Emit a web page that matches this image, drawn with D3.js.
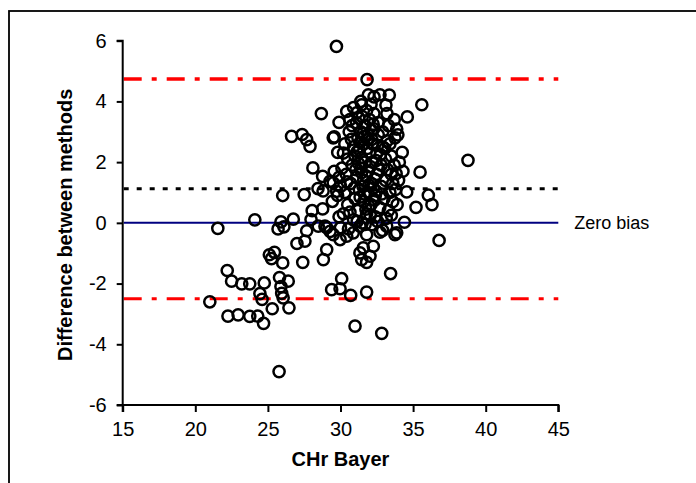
<!DOCTYPE html>
<html>
<head>
<meta charset="utf-8">
<script src="https://cdn.jsdelivr.net/npm/d3@7"></script>
<style>
  body { margin: 0; background: #fff; }
  text { font-family: Arial, "Liberation Sans", sans-serif; }
</style>
</head>
<body>
<div class="canva"></div>
<script>
// Bland-Altman plot: CHr Bayer vs difference between methods

const bayer = [
  21.0, 21.55, 22.2, 22.5, 22.25, 22.95, 23.2, 23.75, 23.75, 24.1,
  24.3, 24.45, 24.6, 24.7, 24.75, 25.1, 25.25, 25.45, 25.3, 25.7,
  25.8, 25.9, 25.9, 25.95, 26.05, 26.1, 26.02, 26.02, 26.4, 26.45,
  25.77, 26.63, 26.75, 27.0, 27.4, 27.36, 27.5, 27.55, 27.67, 27.67,
  27.9, 27.97, 28.05, 28.1, 28.45, 28.47, 28.68, 28.77, 28.77, 28.8,
  28.82, 28.93, 29.05, 29.05, 29.28, 29.28, 29.39, 29.44, 29.5, 29.5,
  29.5, 29.57, 29.57, 29.72, 29.74, 29.81, 29.9, 29.97, 29.97, 30.08,
  30.0, 30.43, 30.43, 30.65, 30.7, 30.88, 31.0, 31.11, 31.34, 31.34,
  31.46, 31.46, 31.57, 31.8, 31.8, 31.8, 31.83, 31.92, 32.03, 32.15,
  32.26, 32.31, 32.72, 32.72, 32.84, 33.13, 33.18, 33.36, 33.45, 33.75,
  33.75, 33.87, 33.87, 33.83, 34.25, 34.4, 34.56, 34.6, 35.2, 35.48,
  35.6, 36.05, 36.3, 36.79, 38.78,
  // dense cluster
  30.2, 30.3, 30.4, 30.5, 30.3, 30.6, 30.5, 30.7, 30.8, 30.9,
  30.8, 30.9, 31.0, 31.1, 31.0, 31.2, 31.1, 31.2, 31.3, 31.4,
  31.3, 31.4, 31.5, 31.5, 31.6, 31.6, 31.7, 31.6, 31.7, 31.8,
  31.8, 31.9, 31.9, 32.0, 31.9, 32.0, 32.1, 32.1, 32.2, 32.2,
  32.3, 32.3, 32.4, 32.4, 32.5, 32.5, 32.6, 32.6, 32.7, 32.8,
  32.8, 32.9, 32.9, 33.0, 33.1, 33.1, 33.2, 33.3, 33.3, 33.4,
  33.5, 33.5, 33.6, 33.6, 33.7, 33.4, 30.1, 30.0, 29.9, 30.2,
  29.8, 29.9, 31.25, 31.45, 31.55, 31.75, 31.85, 32.05, 32.15, 32.35,
  32.45, 31.05, 30.95, 31.65, 32.25, 32.65, 32.75, 31.35, 31.95, 30.65,
  33.15, 33.8, 34.0, 33.9, 32.55, 31.15, 30.55, 31.7, 32.9, 33.5,
  34.05, 33.95, 33.2, 32.1, 31.4, 30.9, 33.7, 34.3,
  31.15, 31.35, 31.55, 31.75, 31.95, 32.15, 32.35, 32.55, 31.25, 31.65,
  32.05, 32.45, 31.45, 31.85, 32.25, 30.75, 30.45, 33.05, 33.25, 32.85
];

const diff = [
  -2.6, -0.18, -1.57, -1.92, -3.07, -3.03, -2.01, -2.01, -3.08, 0.1,
  -3.07, -2.33, -2.52, -3.31, -1.98, -1.05, -1.18, -0.97, -2.83, -0.2,
  -1.8, 0.03, -2.1, -2.32, -2.47, -0.13, -1.32, 0.9, -1.92, -2.8,
  -4.9, 2.85, 0.12, -0.68, -1.3, 2.91, 0.93, -0.6, 2.74, -0.26,
  2.52, 0.11, 0.4, 1.81, 1.13, -0.11, 3.6, 0.46, 1.53, 1.05,
  -1.21, -0.11, -0.88, -0.16, 1.37, -0.28, -2.2, 0.71, 1.32, 2.8,
  -0.39, 1.7, 2.83, 5.81, 1.04, 2.32, 3.31, -0.55, -2.17, -1.84,
  -0.16, 3.67, -0.44, 3.4, -2.39, -0.33, -3.4, 3.62, -0.99, -0.11,
  -1.21, 3.89, -0.82, -1.3, -2.28, -0.39, 4.72, 4.22, -1.1, -0.06,
  -0.77, 4.15, 4.22, -0.31, -3.64, 3.88, -0.11, 4.21, -1.67, 2.8,
  -0.39, 3.09, -0.33, 1.62, 2.32, 0.02, 1.02, 3.49, 0.51, 1.67,
  3.89, 0.91, 0.6, -0.58, 2.06,
  // dense cluster
  0.3, 1.0, 1.6, 2.1, 2.6, 3.0, 0.6, 1.3, 1.9, 2.5,
  3.2, 0.1, 0.8, 1.5, 2.2, 2.8, 3.3, 0.4, 1.1, 1.8,
  2.4, 3.0, 3.5, 0.0, 0.7, 1.4, 2.0, 2.6, 3.2, 3.7,
  0.3, 1.0, 1.7, 2.3, 2.9, 3.4, 0.6, 1.3, 2.0, 2.6,
  3.1, 3.6, 0.2, 0.9, 1.6, 2.3, 2.9, 3.3, 0.5, 1.2,
  1.9, 2.5, 3.0, 0.8, 1.4, 2.1, 2.7, 3.2, 0.4, 1.0,
  1.6, 2.2, 0.7, 1.3, 1.9, 2.6, 1.8, 1.2, 0.2, 2.3,
  0.9, 1.5, 1.95, 2.15, 1.2, 1.55, 2.45, 1.85, 2.75, 1.45,
  2.05, 1.75, 1.15, 0.95, 1.15, 1.75, 2.25, 2.65, 0.55, 0.35,
  0.15, 1.1, 1.4, 0.6, 0.05, 0.05, -0.2, -0.05, -0.25, 0.25,
  2.0, 2.9, 3.6, 3.9, 4.0, 3.8, 3.4, 1.7,
  2.35, 0.85, 2.95, 0.45, 1.25, 3.05, 0.75, 2.55, 3.45, 2.85,
  0.25, 1.05, 1.65, 2.75, 3.25, 2.75, 1.35, 2.45, 1.75, 0.95
];

const xTicks = [15, 20, 25, 30, 35, 40, 45];
const yTicks = [-6, -4, -2, 0, 2, 4, 6];

const bias = 1.12;
const upperLimit = 4.74;
const lowerLimit = -2.5;

const points = bayer.map((b, i) => ({ x: b, y: diff[i] }));

const width = 696;
const height = 483;
const margin = { left: 122.7, top: 40.7, right: 696 - 558.3, bottom: 483 - 405 };

const svg = d3.select('.canva').append('svg')
  .attr('width', width)
  .attr('height', height);

// outer frame (runs off the right and bottom edge)
svg.append('rect')
  .attr('x', 9).attr('y', 11)
  .attr('width', 720).attr('height', 520)
  .attr('fill', 'none')
  .attr('stroke', '#000')
  .attr('stroke-width', 1.8);

const x = d3.scaleLinear().domain([15, 45]).range([margin.left, width - margin.right]);
const y = d3.scaleLinear().domain([-6, 6]).range([height - margin.bottom, margin.top]);

// reference lines
const refLines = [
  { v: upperLimit, color: '#ff0000', w: 3.5, dash: '18,10,5,10' },
  { v: lowerLimit, color: '#ff0000', w: 3, dash: '18,10,5,10' },
  { v: bias, color: '#000', w: 3, dash: '5,8' },
  { v: 0, color: '#000080', w: 2, dash: null }
];

svg.selectAll('line.ref')
  .data(refLines)
  .enter()
  .append('line')
  .attr('class', 'ref')
  .attr('x1', x(15) + 1)
  .attr('x2', x(45))
  .attr('y1', d => y(d.v))
  .attr('y2', d => y(d.v))
  .attr('stroke', d => d.color)
  .attr('stroke-width', d => d.w)
  .attr('stroke-dasharray', d => d.dash);

svg.append('text')
  .attr('x', x(45) + 16)
  .attr('y', y(0))
  .attr('dy', '0.35em')
  .attr('font-size', 18)
  .text('Zero bias');

// points
svg.selectAll('circle')
  .data(points)
  .enter()
  .append('circle')
  .attr('cx', d => x(d.x))
  .attr('cy', d => y(d.y))
  .attr('r', 5.6)
  .attr('fill', 'none')
  .attr('stroke', '#000')
  .attr('stroke-width', 2.5);

// axes
const fmt = d => String(d);

const xAxis = svg.append('g')
  .attr('transform', `translate(0,${height - margin.bottom})`)
  .call(d3.axisBottom(x).tickValues(xTicks).tickSize(7).tickPadding(10).tickFormat(fmt));

const yAxis = svg.append('g')
  .attr('transform', `translate(${margin.left},0)`)
  .call(d3.axisLeft(y).tickValues(yTicks).tickSize(6).tickPadding(10).tickFormat(fmt));

[xAxis, yAxis].forEach(g => {
  g.select('.domain').attr('stroke', '#000').attr('stroke-width', 2);
  g.selectAll('.tick line').attr('stroke', '#000').attr('stroke-width', 2);
  g.selectAll('.tick text')
    .attr('font-size', 20)
    .attr('font-family', 'Arial, "Liberation Sans", sans-serif')
    .attr('fill', '#000');
});
xAxis.select('.domain').attr('d', `M${x(15)},7V0H${x(45)}V7`);
yAxis.select('.domain').attr('d', `M-6,${y(6)}H0V${y(-6)}H-6`);

// axis titles
svg.append('text')
  .attr('x', x(30))
  .attr('y', 466)
  .attr('text-anchor', 'middle')
  .attr('font-size', 20)
  .attr('font-weight', 'bold')
  .text('CHr Bayer');

svg.append('text')
  .attr('transform', `translate(72,${y(0) + 2}) rotate(-90)`)
  .attr('text-anchor', 'middle')
  .attr('font-size', 20)
  .attr('font-weight', 'bold')
  .text('Difference between methods');
</script>
</body>
</html>
